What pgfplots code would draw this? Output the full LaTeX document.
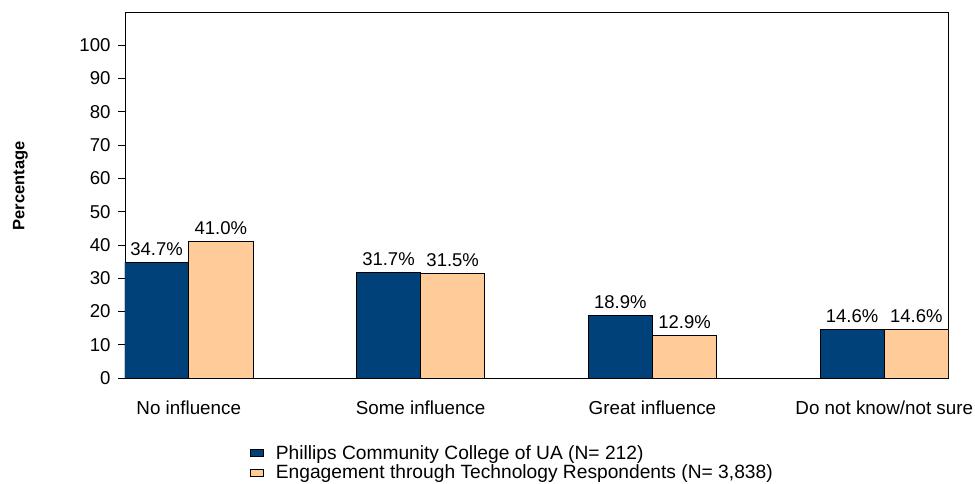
\documentclass[border=0pt]{standalone}
\usepackage{pgfplots}
\pgfplotsset{compat=1.18}
\usepackage{fontspec}
\setmainfont{Liberation Sans}
\definecolor{darkb}{RGB}{0,65,122}
\definecolor{peach}{RGB}{255,204,153}
\begin{document}
\begin{tikzpicture}[x=1pt,y=1pt]
\begin{axis}[
  at={(125pt,106pt)}, anchor=south west,
  scale only axis, width=823pt, height=366pt,
  xmin=-0.275, xmax=3.275, ymin=0, ymax=110,
  ytick={0,10,...,100},
  xtick={0,1,2,3},
  xticklabels={No influence,Some influence,Great influence,Do not know/not sure},
  xtick style={draw=none},
  ytick pos=left, tick align=outside, major tick length=7pt,
  tick style={black, line width=0.8pt},
  axis line style={line width=0.9pt},
  yticklabel style={font=\fontsize{18.6}{21}\selectfont, xshift=-4pt},
  xticklabel style={font=\fontsize{18.8}{21}\selectfont, yshift=-12pt},
  /pgf/number format/assume math mode=true,
  ylabel={Percentage},
  ylabel style={at={(axis description cs:-0.127,0.525)}, anchor=center, font=\fontsize{16.5}{19}\selectfont\bfseries},
  ybar, bar width=0.277,
  nodes near coords={\pgfmathprintnumber[fixed,fixed zerofill,precision=1]{\pgfplotspointmeta}\%},
  nodes near coords style={font=\fontsize{18.5}{21}\selectfont, black, yshift=3pt},
  legend style={at={(axis description cs:0.152,-0.178)}, anchor=north west, draw=none, fill=none,
    font=\fontsize{19.2}{22}\selectfont, row sep=0pt, column sep=10pt, inner sep=0pt},
  legend cell align=left,
  legend image code/.code={\draw[#1,draw=black,line width=0.6pt] (0pt,-3.5pt) rectangle (13pt,3.5pt);},
]
\addplot+[bar shift=-0.1385, fill=darkb, draw=black, line width=0.8pt] coordinates {(0,34.7) (1,31.7) (2,18.9) (3,14.6)};
\addplot+[bar shift=0.1385, fill=peach, draw=black, line width=0.8pt] coordinates {(0,41.0) (1,31.5) (2,12.9) (3,14.6)};
\legend{Phillips Community College of UA (N= 212),{Engagement through Technology Respondents (N= 3,838)}}
\end{axis}
\pgfresetboundingbox
\path[use as bounding box] (0,0) rectangle (975,484);
\end{tikzpicture}
\end{document}
